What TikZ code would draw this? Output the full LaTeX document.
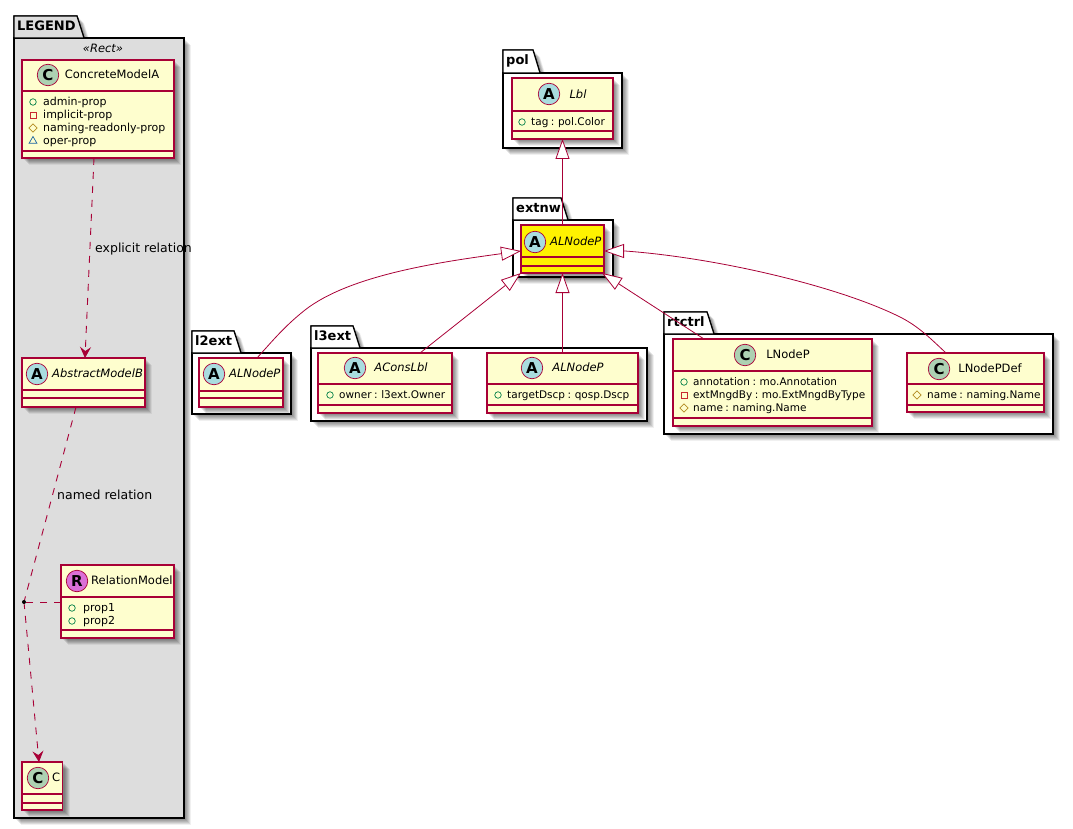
\documentclass[tikz,border=0pt]{standalone}
\usepackage{fontspec}
\setmainfont{DejaVu Sans}
\usetikzlibrary{positioning,arrows.meta,calc,shadows,shapes.geometric}
\definecolor{umlred}{HTML}{A80036}
\definecolor{umlback}{HTML}{FEFECE}
\definecolor{umlgrey}{HTML}{DDDDDD}
\definecolor{spotc}{HTML}{ADD1B2}
\definecolor{spota}{HTML}{A9DCDF}
\definecolor{spotr}{HTML}{DA70D6}
\definecolor{iconpub}{HTML}{038048}
\definecolor{iconpriv}{HTML}{C82930}
\definecolor{iconprot}{HTML}{B38D22}
\definecolor{iconpack}{HTML}{1963A0}
\tikzset{
  softshadow/.style={
    general shadow={shadow xshift=2pt,shadow yshift=-2pt,fill=black,opacity=.09},
    general shadow={shadow xshift=3pt,shadow yshift=-3pt,fill=black,opacity=.09},
    general shadow={shadow xshift=4pt,shadow yshift=-4pt,fill=black,opacity=.09},
    general shadow={shadow xshift=5pt,shadow yshift=-5pt,fill=black,opacity=.09},
    general shadow={shadow xshift=6pt,shadow yshift=-6pt,fill=black,opacity=.09},
    general shadow={shadow xshift=7pt,shadow yshift=-7pt,fill=black,opacity=.06}},
  classbox/.style={draw=umlred,line width=1.05pt,inner sep=0pt,outer sep=0pt,softshadow},
  classline/.style={umlred,line width=1.05pt},
  spot/.style={circle,draw=umlred,line width=.7pt,minimum size=21.5pt,inner sep=0pt,
    font=\fontsize{15}{15}\selectfont\bfseries},
  classname/.style={inner sep=0pt,text height=10pt,text depth=2.5pt,font=\fontsize{11.5}{14}\selectfont},
  abstractname/.style={classname,font=\fontsize{11.5}{14}\selectfont\itshape},
  member/.style={anchor=west,inner sep=0pt,text height=9pt,text depth=2pt,
    font=\fontsize{10.5}{12}\selectfont\spaceskip 2.5pt\relax},
  legendmember/.style={member,font=\fontsize{11}{12}\selectfont},
  pubicon/.style={circle,draw=iconpub,line width=.7pt,minimum size=6.5pt,inner sep=0pt},
  privicon/.style={rectangle,draw=iconpriv,line width=.7pt,minimum size=6pt,inner sep=0pt},
  proticon/.style={diamond,draw=iconprot,line width=.7pt,minimum size=8.5pt,inner sep=0pt},
  packicon/.style={regular polygon,regular polygon sides=3,draw=iconpack,line width=.7pt,minimum size=9pt,inner sep=0pt},
  packbox/.style={draw=black,line width=1.2pt,inner sep=0pt,outer sep=0pt,softshadow},
  packname/.style={anchor=west,inner sep=0pt,text height=10pt,text depth=3pt,font=\fontsize{13}{15}\selectfont\bfseries},
  relname/.style={anchor=west,inner sep=0pt,text height=9pt,text depth=2.5pt,font=\fontsize{12.5}{14}\selectfont},
  inherit/.style={umlred,line width=.8pt,{Triangle[open,fill=white,length=20pt,width=14pt]}-},
  dashlink/.style={umlred,line width=.9pt,dash pattern=on 7pt off 7pt},
  depend/.style={dashlink,-{Stealth[length=11pt,width=11pt,inset=4pt]}},
}
% name, x1, y1, x2, y2, first line, second line, fill
\newcommand{\umlclass}[8]{
  \node[classbox,fill=#8,minimum width={(#4-#2)*1pt},minimum height={(#5-#3)*1pt}]
    (#1) at ({(#2+#4)/2},{(#3+#5)/2}) {};
  \draw[classline] (#2,#6)--(#4,#6);
  \draw[classline] (#2,#7)--(#4,#7);
}
% name, x1, tab top, y1, x2, y2, tab end, label, grey or white
\newcommand{\umlpack}[9]{
  \draw[draw=black,line width=1.2pt,fill=#9,softshadow]
    (#2,#4)--(#2,#3)--({#7-7},#3)--(#7,#4)--cycle;
  \node[packbox,fill=#9,minimum width={(#5-#2)*1pt},minimum height={(#6-#4)*1pt}]
    (#1) at ({(#2+#5)/2},{(#4+#6)/2}) {};
  \draw[draw=black,line width=1.2pt,fill=#9]
    (#2,#4)--(#2,#3)--({#7-7},#3)--(#7,#4)--cycle;
  \node[packname] (#1-name) at ({#2+3},{(#3+#4)/2}) {#8};
}
\begin{document}
\begin{tikzpicture}[x=1pt,y=-1pt]
  \useasboundingbox (0,0) rectangle (1073,829);

  % packages
  \umlpack{legend}{14}{16}{38}{184}{818}{84}{LEGEND}{umlgrey}
  \umlpack{pol}{503}{50}{73}{622}{148}{540}{pol}{white}
  \umlpack{extnw}{513}{198}{220}{613}{277}{568}{extnw}{white}
  \umlpack{ltwoext}{192}{331}{353}{291}{414}{241}{l2ext}{white}
  \umlpack{lthreeext}{311}{326}{348}{647}{421}{360}{l3ext}{white}
  \umlpack{rtctrl}{664}{312}{334}{1053}{434}{714}{rtctrl}{white}
  \node[classname,font=\fontsize{11.5}{14}\selectfont\itshape] (legend-st) at (103,49) {«Rect»};

  % legend classes
  \umlclass{concrete}{22}{60}{174}{158}{91}{151}{umlback}
  \node[spot,fill=spotc] (concrete-s) at (48,75) {C};
  \node[classname] (concrete-t) at (112,75) {ConcreteModelA};
  \foreach \y/\ic/\txt/\i in {102/pubicon/admin-prop/1,115/privicon/implicit-prop/2,
      128/proticon/naming-readonly-prop/3,141/packicon/oper-prop/4}{
    \node[\ic] (concrete-i\i) at (33,\y) {};
    \node[legendmember] (concrete-m\i) at (43,\y) {\txt};}

  \umlclass{abstract}{22}{358}{145}{407}{390}{398}{umlback}
  \node[spot,fill=spota] (abstract-s) at (37,374) {A};
  \node[abstractname,anchor=west] (abstract-t) at (52,374) {AbstractModelB};

  \umlclass{relation}{61}{565}{174}{638}{597}{630}{umlback}
  \node[spot,fill=spotr] (relation-s) at (77,581) {R};
  \node[classname,anchor=west] (relation-t) at (91,581) {RelationModel};
  \foreach \y/\txt/\i in {608/prop1/1,621/prop2/2}{
    \node[pubicon] (relation-i\i) at (72,\y) {};
    \node[legendmember] (relation-m\i) at (83,\y) {\txt};}

  \umlclass{cee}{22}{762}{62.5}{810}{794}{803}{umlback}
  \node[spot,fill=spotc] (cee-s) at (38,778) {C};
  \node[classname,anchor=west] (cee-t) at (52,778) {C};

  % model classes
  \umlclass{lbl}{512}{78}{613}{139}{111}{131}{umlback}
  \node[spot,fill=spota] (lbl-s) at (549,94) {A};
  \node[abstractname] (lbl-t) at (578,95) {Lbl};
  \node[pubicon] (lbl-i) at (522,122) {};
  \node[member] (lbl-m) at (531,122) {tag : pol.Color};

  \umlclass{alnode}{521}{225}{604}{273}{257}{266}{yellow}
  \node[spot,fill=spota] (alnode-s) at (535,242) {A};
  \node[abstractname,anchor=west] (alnode-t) at (550,242) {ALNodeP};

  \umlclass{ltwo}{199}{358}{283}{407}{391}{398}{umlback}
  \node[spot,fill=spota] (ltwo-s) at (214,374) {A};
  \node[abstractname,anchor=west] (ltwo-t) at (229,374) {ALNodeP};

  \umlclass{conslbl}{318}{353}{452}{413}{384}{405}{umlback}
  \node[spot,fill=spota] (conslbl-s) at (355,368) {A};
  \node[abstractname] (conslbl-t) at (401,368) {AConsLbl};
  \node[pubicon] (conslbl-i) at (330,395) {};
  \node[member] (conslbl-m) at (339,395) {owner : l3ext.Owner};

  \umlclass{lthree}{487}{353}{638}{413}{384}{405}{umlback}
  \node[spot,fill=spota] (lthree-s) at (532,368) {A};
  \node[abstractname] (lthree-t) at (578,368) {ALNodeP};
  \node[pubicon] (lthree-i) at (498,395) {};
  \node[member] (lthree-m) at (507,395) {targetDscp : qosp.Dscp};

  \umlclass{lnode}{673}{339}{872}{426}{371}{418}{umlback}
  \node[spot,fill=spotc] (lnode-s) at (745,355) {C};
  \node[classname] (lnode-t) at (788,355) {LNodeP};
  \foreach \y/\ic/\txt/\i in {382/pubicon/annotation : mo.Annotation/1,
      395/privicon/extMngdBy : mo.ExtMngdByType/2,408/proticon/name : naming.Name/3}{
    \node[\ic] (lnode-i\i) at (684,\y) {};
    \node[member] (lnode-m\i) at (693,\y) {\txt};}

  \umlclass{lnodedef}{907}{353}{1044}{412}{384}{405}{umlback}
  \node[spot,fill=spotc] (lnodedef-s) at (939,369) {C};
  \node[classname] (lnodedef-t) at (990,369) {LNodePDef};
  \node[proticon] (lnodedef-i) at (917,395) {};
  \node[member] (lnodedef-m) at (927,395) {name : naming.Name};

  % legend relations
  \coordinate (assoc) at (24,602);
  \draw[depend] ($(concrete.south west)+(72,0)$)--($(abstract.north west)+(63,0)$);
  \draw[dashlink] ($(abstract.south west)+(54,0)$)--(assoc);
  \draw[dashlink] (relation.west|-assoc)--(assoc);
  \draw[depend] (assoc)--($(cee.north west)+(17,0)$);
  \fill[black] (assoc) circle (2pt);
  \node[relname] (explicit-l) at (95,249) {explicit relation};
  \node[relname] (named-l) at (57,496) {named relation};

  % inheritance
  \draw[inherit] (lbl.south-|alnode.north)--(alnode.north);
  \draw[inherit] (alnode.south)--(alnode.south|-lthree.north);
  \draw[inherit] (alnode.south west)--($(conslbl.north west)+(102,0)$);
  \draw[inherit] ($(alnode.south east)+(-2,0)$)--($(lnode.north west)+(31,0)$);
  \draw[inherit] ($(alnode.south west)+(0,-22)$)..controls (440,262) and (350,275)..(305,310)
    ..controls (285,326) and (275,338)..($(ltwo.north west)+(58,0)$);
  \draw[inherit] ($(alnode.south east)+(0,-22)$)--(625,251)..controls (720,258) and (840,287)..(900,317)
    ..controls (918,326) and (930,338)..($(lnodedef.north west)+(39,0)$);
\end{tikzpicture}
\end{document}
